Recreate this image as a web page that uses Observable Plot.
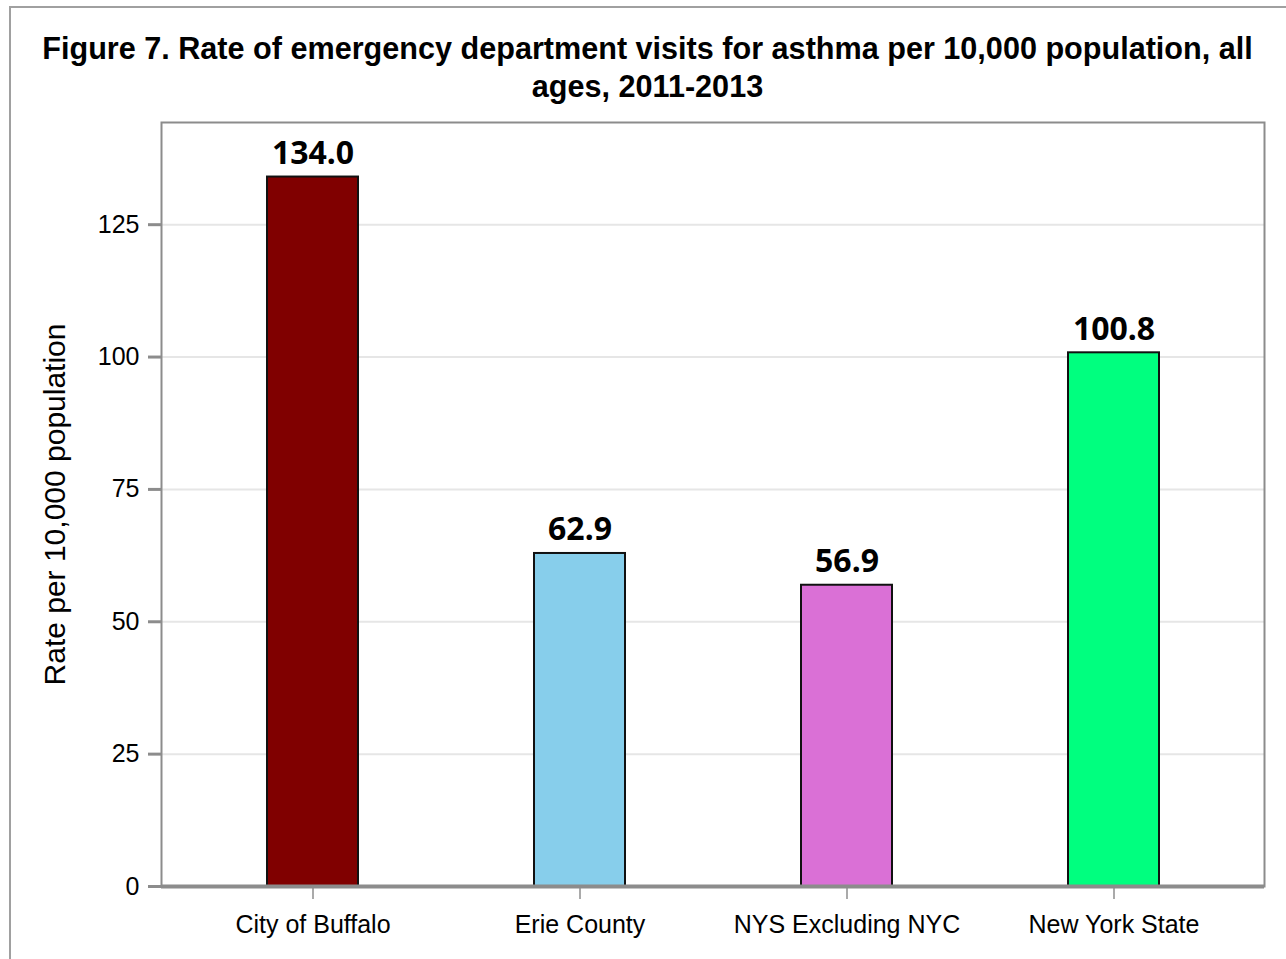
<!DOCTYPE html>
<html>
<head>
<meta charset="utf-8">
<script src="https://cdn.jsdelivr.net/npm/d3@7"></script>
<script src="https://cdn.jsdelivr.net/npm/@observablehq/plot@0.6"></script>
<style>
  html, body { margin: 0; padding: 0; background: #fff; }
  #wrap { position: relative; width: 1286px; height: 959px; overflow: hidden; }
  #border { position: absolute; left: 9px; top: 6px; width: 1300px; height: 1000px; border: 2px solid #a0a0a0; box-sizing: border-box; }
  #title { position: absolute; left: 0; top: 29px; width: 1295px; text-align: center;
           font-family: "Liberation Sans", Arimo, Arial, sans-serif; font-weight: 700; font-size: 30.6px; line-height: 38px; color: #000; }
  #chart { position: absolute; left: 0; top: 0; }
</style>
</head>
<body>
<div id="wrap">
  <div id="border"></div>
  <div id="title">Figure 7. Rate of emergency department visits for asthma per 10,000 population, all<br>ages, 2011-2013</div>
  <div id="chart"></div>
</div>
<script>
const categories = ["City of Buffalo", "Erie County", "NYS Excluding NYC", "New York State"];
const values = [134.0, 62.9, 56.9, 100.8];
const labels = ["134.0", "62.9", "56.9", "100.8"];
const colors = ["#800000", "#87CEEB", "#DA70D6", "#00FF7F"];
const yTicks = [0, 25, 50, 75, 100, 125];
const yTitle = "Rate per 10,000 population";

const data = categories.map((c, i) => ({category: c, value: values[i], label: labels[i], color: colors[i]}));

const sans = "'Liberation Sans', Arimo, Arial, sans-serif";

const chart = Plot.plot({
  width: 1286,
  height: 959,
  marginTop: 122,
  marginLeft: 161,
  marginRight: 22,
  marginBottom: 73,
  style: {fontFamily: sans, fontSize: "25px", color: "#000", background: "transparent"},
  x: {domain: categories, paddingInner: 0.66, paddingOuter: 0.392, label: null},
  y: {domain: [0, 144.3], label: null},
  marks: [
    Plot.gridY(yTicks, {stroke: "#e6e6e6", strokeOpacity: 1, strokeWidth: 2}),
    Plot.barY(data, {x: "category", y: "value", fill: "color", stroke: "#111", strokeWidth: 2}),
    Plot.text(data, {x: "category", y: "value", text: "label", lineAnchor: "bottom", dy: -13,
      fontSize: 32, fontWeight: "bold", fontFamily: "'Noto Sans', sans-serif", fill: "#000"}),
    Plot.frame({stroke: "#8c8c8c", strokeWidth: 2}),
    Plot.axisY({ticks: yTicks, tickSize: 13, tickPadding: 9, stroke: "#8c8c8c", strokeWidth: 3, fill: "#000", fontSize: 25, label: null}),
    Plot.axisX({tickSize: 13, tickPadding: 16, stroke: "#aaa", strokeWidth: 2, fill: "#000", fontSize: 25, label: null}),
    Plot.ruleY([0], {stroke: "#8c8c8c", strokeWidth: 4}),
    Plot.text([yTitle], {frameAnchor: "left", textAnchor: "middle", rotate: -90, dx: -106, fontSize: 30,
      fontFamily: sans, fill: "#000"})
  ]
});
document.getElementById("chart").appendChild(chart);
</script>
</body>
</html>
